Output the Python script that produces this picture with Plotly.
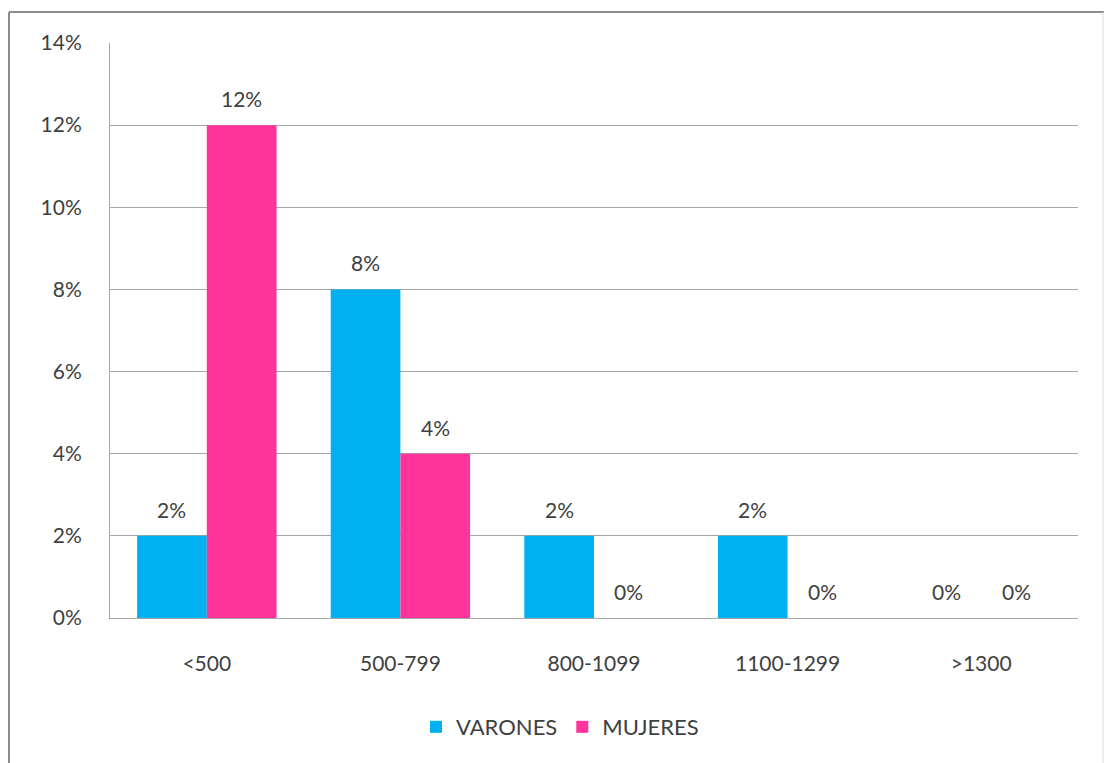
import plotly.graph_objects as go

# Ingreso mensual por sexo
categorias = ["<500", "500-799", "800-1099", "1100-1299", ">1300"]
varones = [2, 8, 2, 2, 0]
mujeres = [12, 4, 0, 0, 0]
y_ticks = [0, 2, 4, 6, 8, 10, 12, 14]

AZUL = "#00B0F0"
ROSA = "#FF3399"
TEXTO = "#404040"
GRID = "#A6A6A6"
FONT = "Lato"
FS = 21

L, R, T, B = 110, 27, 43, 145
W, H = 1105, 763
PW, PH = W - L - R, H - T - B

fig = go.Figure()
fig.add_trace(go.Bar(name="VARONES", x=categorias, y=varones, marker_color=AZUL,
                     marker_line_width=0))
fig.add_trace(go.Bar(name="MUJERES", x=categorias, y=mujeres, marker_color=ROSA,
                     marker_line_width=0))

bargap = 0.28
half = PW / len(categorias) * (1 - bargap) / 4
annotations = []
for serie, off in ((varones, -half), (mujeres, half)):
    for c, v in zip(categorias, serie):
        annotations.append(dict(x=c, y=v, xref="x", yref="y", text=f"{v}%",
                                showarrow=False, xshift=off, yshift=12,
                                yanchor="bottom",
                                font=dict(family=FONT, size=FS, color=TEXTO)))

# frame around the chart area
px = lambda p: (p - L) / PW
py = lambda p: (H - B - p) / PH
shapes = [
    dict(type="line", xref="paper", yref="paper", x0=px(9), x1=px(1104), y0=py(12), y1=py(12),
         line=dict(color="#8C8C8C", width=2)),
    dict(type="line", xref="paper", yref="paper", x0=px(9), x1=px(9), y0=py(12), y1=py(763),
         line=dict(color="#8C8C8C", width=2)),
    dict(type="line", xref="paper", yref="paper", x0=px(1103), x1=px(1103), y0=py(12), y1=py(763),
         line=dict(color="#D9D9D9", width=1)),
]

fig.update_layout(
    width=W, height=H,
    margin=dict(l=L, r=R, t=T, b=B, autoexpand=False),
    paper_bgcolor="white", plot_bgcolor="white",
    barmode="group", bargap=bargap, bargroupgap=0,
    font=dict(family=FONT, size=FS, color=TEXTO),
    showlegend=True,
    legend=dict(orientation="h", x=px(560), xanchor="center", y=py(727), yanchor="middle",
                font=dict(family=FONT, size=22, color=TEXTO), itemwidth=30,
                traceorder="normal"),
    annotations=annotations,
    shapes=shapes,
    xaxis=dict(showgrid=False, showline=True, linecolor=GRID, linewidth=1,
               ticks="", ticklabelstandoff=27, fixedrange=True),
    yaxis=dict(range=[0, 14], tickvals=y_ticks, ticktext=[f"{t}%" for t in y_ticks],
               showgrid=True, gridcolor=GRID, gridwidth=1, zeroline=False,
               showline=True, linecolor=GRID, linewidth=1, ticks="",
               ticklabelstandoff=23, fixedrange=True),
)

fig.write_html("out.html")
